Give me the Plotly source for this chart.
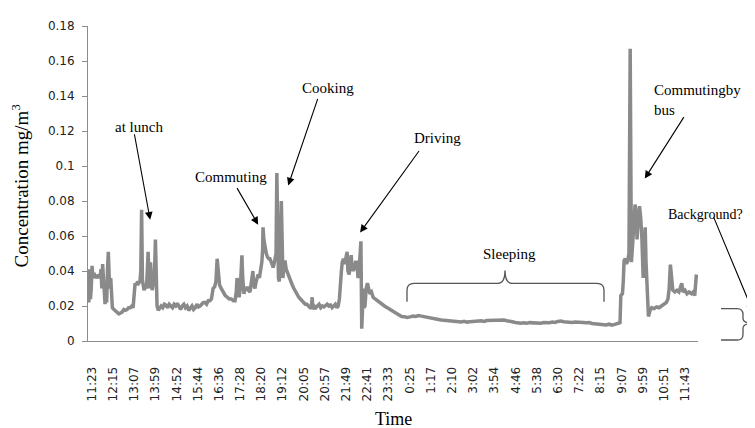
import plotly.graph_objects as go

# ---------------- data ----------------
# elapsed minutes since 11:23 (first tick label) and concentration in mg/m3
minutes = [
    -10, -8, -6, -4, -2, 0, 2, 5, 7, 10, 12, 15, 17, 20, 22, 24, 26, 28, 30, 32,
    34, 36, 38, 40, 42, 44, 46, 48, 50, 54, 58, 62, 66, 70, 74, 78, 82, 86, 90, 94,
    98, 101, 103, 106, 109, 112, 115, 118, 120, 122, 124, 126, 128, 131, 134, 136, 138, 140, 142, 144,
    146, 148, 151, 154, 156, 158, 160, 163, 166, 170, 174, 178, 182, 186, 190, 194, 198, 202, 206, 210,
    214, 218, 222, 226, 230, 234, 238, 242, 246, 250, 254, 258, 262, 266, 270, 274, 278, 282, 286, 290,
    294, 298, 302, 305, 308, 311, 314, 318, 323, 328, 333, 338, 343, 348, 352, 355, 357, 359, 362, 365,
    367, 369, 371, 374, 377, 380, 382, 385, 389, 392, 394, 396, 398, 401, 404, 407, 409, 412, 415, 418,
    420, 421, 423, 426, 429, 432, 435, 438, 441, 444, 446, 449, 451, 453, 455, 457, 459, 461, 463, 466,
    468, 470, 472, 475, 478, 481, 485, 489, 493, 497, 501, 505, 509, 513, 517, 521, 525, 529, 533, 537,
    540, 542, 544, 547, 551, 555, 559, 563, 567, 571, 575, 579, 583, 587, 591, 595, 599, 603, 606, 609,
    611, 614, 616, 619, 622, 625, 628, 630, 633, 636, 638, 640, 643, 646, 649, 652, 655, 658, 660, 662,
    664, 666, 668, 670, 672, 675, 678, 681, 684, 688, 692, 697, 702, 708, 714, 720, 727, 734, 741, 748,
    755, 762, 769, 776, 783, 790, 797, 804, 811, 818, 825, 832, 839, 846, 853, 860, 867, 874, 881, 888,
    895, 902, 909, 916, 923, 930, 937, 944, 951, 958, 965, 972, 979, 986, 993, 1000, 1007, 1014, 1021, 1028,
    1035, 1042, 1049, 1056, 1063, 1070, 1077, 1084, 1091, 1098, 1105, 1112, 1119, 1126, 1133, 1140, 1147, 1154, 1161, 1168,
    1175, 1182, 1189, 1196, 1203, 1210, 1217, 1224, 1231, 1238, 1245, 1252, 1259, 1266, 1273, 1280, 1287, 1294, 1300, 1302,
    1306, 1308, 1310, 1313, 1316, 1319, 1322, 1325, 1328, 1331, 1334, 1337, 1340, 1342, 1345, 1348, 1351, 1354, 1357, 1359,
    1362, 1364, 1367, 1370, 1374, 1378, 1384, 1390, 1396, 1402, 1408, 1414, 1418, 1421, 1424, 1427, 1430, 1435, 1440, 1445,
    1449, 1452, 1455, 1460, 1465, 1470, 1476, 1480, 1484, 1486, 1488,
]
conc = [
    0.034, 0.022, 0.041, 0.024, 0.030, 0.043, 0.036, 0.039, 0.036, 0.037, 0.036, 0.038, 0.036, 0.037, 0.041, 0.030, 0.044, 0.034, 0.024, 0.021,
    0.028, 0.022, 0.040, 0.051, 0.038, 0.030, 0.036, 0.021, 0.019, 0.018, 0.017, 0.016, 0.0155, 0.016, 0.0165, 0.018, 0.0175, 0.018, 0.019, 0.019,
    0.020, 0.019, 0.026, 0.033, 0.032, 0.034, 0.033, 0.034, 0.040, 0.075, 0.035, 0.031, 0.029, 0.031, 0.030, 0.040, 0.051, 0.039, 0.030, 0.045,
    0.035, 0.029, 0.033, 0.040, 0.058, 0.034, 0.020, 0.0175, 0.019, 0.020, 0.019, 0.021, 0.0205, 0.019, 0.021, 0.020, 0.019, 0.021, 0.020, 0.0215,
    0.020, 0.018, 0.020, 0.021, 0.019, 0.020, 0.0175, 0.019, 0.020, 0.018, 0.019, 0.021, 0.0195, 0.020, 0.021, 0.022, 0.022, 0.021, 0.023, 0.023,
    0.024, 0.030, 0.031, 0.034, 0.047, 0.036, 0.032, 0.030, 0.028, 0.026, 0.025, 0.024, 0.024, 0.023, 0.023, 0.028, 0.036, 0.029, 0.025, 0.030,
    0.038, 0.049, 0.036, 0.027, 0.030, 0.029, 0.031, 0.029, 0.028, 0.032, 0.037, 0.040, 0.032, 0.030, 0.034, 0.036, 0.038, 0.036, 0.040, 0.045,
    0.052, 0.065, 0.058, 0.052, 0.050, 0.048, 0.047, 0.047, 0.045, 0.044, 0.042, 0.045, 0.047, 0.050, 0.096, 0.045, 0.036, 0.034, 0.045, 0.080,
    0.038, 0.036, 0.042, 0.046, 0.041, 0.039, 0.036, 0.034, 0.032, 0.030, 0.028, 0.027, 0.025, 0.024, 0.023, 0.022, 0.021, 0.021, 0.020, 0.019,
    0.019, 0.025, 0.018, 0.020, 0.019, 0.020, 0.021, 0.019, 0.020, 0.0195, 0.020, 0.021, 0.020, 0.0205, 0.019, 0.020, 0.021, 0.019, 0.020, 0.024,
    0.034, 0.040, 0.045, 0.047, 0.044, 0.048, 0.051, 0.040, 0.038, 0.045, 0.049, 0.043, 0.040, 0.042, 0.045, 0.045, 0.036, 0.042, 0.056, 0.057,
    0.007, 0.023, 0.030, 0.019, 0.020, 0.030, 0.033, 0.030, 0.027, 0.028, 0.025, 0.024, 0.023, 0.022, 0.021, 0.020, 0.019, 0.018, 0.017, 0.016,
    0.0155, 0.014, 0.0138, 0.0135, 0.0138, 0.0142, 0.0140, 0.0145, 0.0142, 0.0138, 0.0135, 0.0130, 0.0128, 0.0125, 0.0123, 0.0120, 0.0118, 0.0116, 0.0115, 0.0112,
    0.0110, 0.0108, 0.0109, 0.0112, 0.0108, 0.0110, 0.0113, 0.0111, 0.0114, 0.0115, 0.0112, 0.0117, 0.0118, 0.0116, 0.0120, 0.0121, 0.0118, 0.0120, 0.0116, 0.0115,
    0.0110, 0.0106, 0.0103, 0.0102, 0.0104, 0.0101, 0.0105, 0.0103, 0.0102, 0.0104, 0.0102, 0.0106, 0.0104, 0.0105, 0.0108, 0.0106, 0.0112, 0.0114, 0.0110, 0.0108,
    0.0110, 0.0106, 0.0108, 0.0109, 0.0107, 0.0106, 0.0104, 0.0105, 0.0100, 0.0098, 0.0097, 0.0095, 0.0093, 0.0092, 0.0096, 0.0090, 0.0095, 0.0103, 0.0105, 0.026,
    0.027, 0.034, 0.046, 0.047, 0.044, 0.046, 0.050, 0.167, 0.045, 0.055, 0.072, 0.078, 0.070, 0.058, 0.072, 0.077, 0.070, 0.058, 0.036, 0.045,
    0.065, 0.045, 0.030, 0.014, 0.0175, 0.019, 0.0185, 0.0195, 0.019, 0.020, 0.021, 0.022, 0.024, 0.030, 0.0436, 0.036, 0.029, 0.028, 0.029, 0.028,
    0.031, 0.033, 0.028, 0.029, 0.027, 0.028, 0.027, 0.028, 0.026, 0.031, 0.038,
]

time_labels = ["11:23", "12:15", "13:07", "13:59", "14:52", "15:44", "16:36", "17:28",
               "18:20", "19:12", "20:05", "20:57", "21:49", "22:41", "23:33", "0:25",
               "1:17", "2:10", "3:02", "3:54", "4:46", "5:38", "6:30", "7:22", "8:15",
               "9:07", "9:59", "10:51", "11:43"]

y_ticks = [0, 0.02, 0.04, 0.06, 0.08, 0.1, 0.12, 0.14, 0.16, 0.18]
y_tick_text = ["0", "0.02", "0.04", "0.06", "0.08", "0.1", "0.12", "0.14", "0.16", "0.18"]


def label_minutes(labels):
    vals, offset, prev, start = [], 0, None, None
    for lab in labels:
        h, m = map(int, lab.split(":"))
        t = h * 60 + m
        if prev is not None and t < prev:
            offset += 1440
        prev = t
        if start is None:
            start = t
        vals.append(t + offset - start)
    return vals


tick_vals = label_minutes(time_labels)

# ---------------- layout helpers ----------------
# window coordinates of the plot area; the page body adds an 8px margin
WIN_W, WIN_H, OFF = 755, 428, 8
L, R, T, B = 88, 698, 19, 341
W, H = WIN_W - OFF, WIN_H - OFF


def px(x):
    return (x - L) / (R - L)


def py(y):
    return (B - y) / (B - T)


SERIF = "Liberation Serif, Times New Roman, serif"
SANS = "DejaVu Sans, Verdana, sans-serif"
LINE_GRAY = "#8a8a8a"
AXIS_GRAY = "#8c8c8c"

fig = go.Figure()
fig.add_trace(go.Scatter(x=minutes, y=conc, mode="lines",
                         line=dict(color=LINE_GRAY, width=3.5),
                         hoverinfo="skip", showlegend=False))

ann = []


def label(text, x, y, xanchor="center", align="center", size=15):
    ann.append(dict(text=text, x=px(x), y=py(y), xref="paper", yref="paper",
                    xanchor=xanchor, yanchor="middle", align=align,
                    showarrow=False, font=dict(family=SERIF, size=size, color="black")))


def arrow(x, y, ax, ay, ref="data"):
    d = dict(text="", x=x, y=y, ax=ax, ay=ay, showarrow=True,
             arrowhead=2, arrowsize=1.4, arrowwidth=1.1, arrowcolor="black",
             standoff=0, startstandoff=0)
    if ref == "data":
        d.update(xref="x", yref="y")
    else:
        d.update(xref="paper", yref="paper")
    ann.append(d)


label("at lunch", 139, 122)
arrow(143, 0.0693, -16, -87)
label("Commuting", 231, 173)
arrow(409, 0.0665, -22, -38)
label("Cooking", 328, 82)
arrow(483, 0.0889, 30, -88)
label("Driving", 437, 133)
arrow(660, 0.0620, 60, -83)
label("Sleeping", 510, 252)
label("Commutingby<br>bus", 652, 95, xanchor="left", align="left")
arrow(1361, 0.0928, 40, -63)
label("Background?", 666, 212, xanchor="left", align="left", size=14)
arrow(px(753), py(311), -40, -96, ref="paper")

# axis titles
ann.append(dict(text="Concentration mg/m<sup>3</sup>", x=px(20), y=py(182),
                xref="paper", yref="paper", textangle=-90, showarrow=False,
                xanchor="center", yanchor="middle",
                font=dict(family=SERIF, size=19, color="black")))
ann.append(dict(text="Time", x=0.5, y=py(421), xref="paper", yref="paper",
                showarrow=False, xanchor="center", yanchor="middle",
                font=dict(family=SERIF, size=18, color="black")))


def path(points):
    out = []
    for cmd, coords in points:
        s = " ".join(f"{px(x):.5f},{py(y):.5f}" for x, y in coords)
        out.append(f"{cmd} {s}")
    return " ".join(out)


brace_sleep = path([
    ("M", [(407, 301)]), ("L", [(407, 289)]), ("Q", [(407, 282), (414, 282)]),
    ("L", [(498, 282)]), ("Q", [(505, 282), (505, 269)]),
    ("Q", [(505, 282), (512, 282)]), ("L", [(597, 282)]),
    ("Q", [(604, 282), (604, 289)]), ("L", [(604, 301)]),
])
brace_bg = path([
    ("M", [(721, 308)]), ("L", [(737, 308)]), ("Q", [(743, 308), (743, 314)]),
    ("L", [(743, 318)]), ("Q", [(743, 323), (754, 323)]),
    ("Q", [(743, 323), (743, 328)]), ("L", [(743, 334)]),
    ("Q", [(743, 340), (737, 340)]), ("L", [(721, 340)]),
])
shapes = [dict(type="path", path=p, xref="paper", yref="paper",
               line=dict(color="#555555", width=1.3))
          for p in (brace_sleep, brace_bg)]

fig.update_layout(
    width=W, height=H,
    margin=dict(l=L - OFF, r=WIN_W - R, t=T - OFF, b=WIN_H - B),
    paper_bgcolor="white", plot_bgcolor="white",
    annotations=ann, shapes=shapes, showlegend=False,
    xaxis=dict(range=[-10, 1492], tickmode="array", tickvals=tick_vals,
               ticktext=time_labels, tickangle=-90, showline=True,
               linecolor=AXIS_GRAY, linewidth=1, showgrid=False, zeroline=False,
               ticks="", ticklabelstandoff=20,
               tickfont=dict(family=SANS, size=12, color="#222222")),
    yaxis=dict(range=[0, 0.18], tickmode="array", tickvals=y_ticks,
               ticktext=y_tick_text, showline=True, linecolor=AXIS_GRAY,
               linewidth=1, showgrid=False, zeroline=False, ticks="outside",
               ticklen=5, tickcolor=AXIS_GRAY, ticklabelstandoff=5,
               tickfont=dict(family=SANS, size=12, color="#222222")),
)

fig.write_html("out.html")
